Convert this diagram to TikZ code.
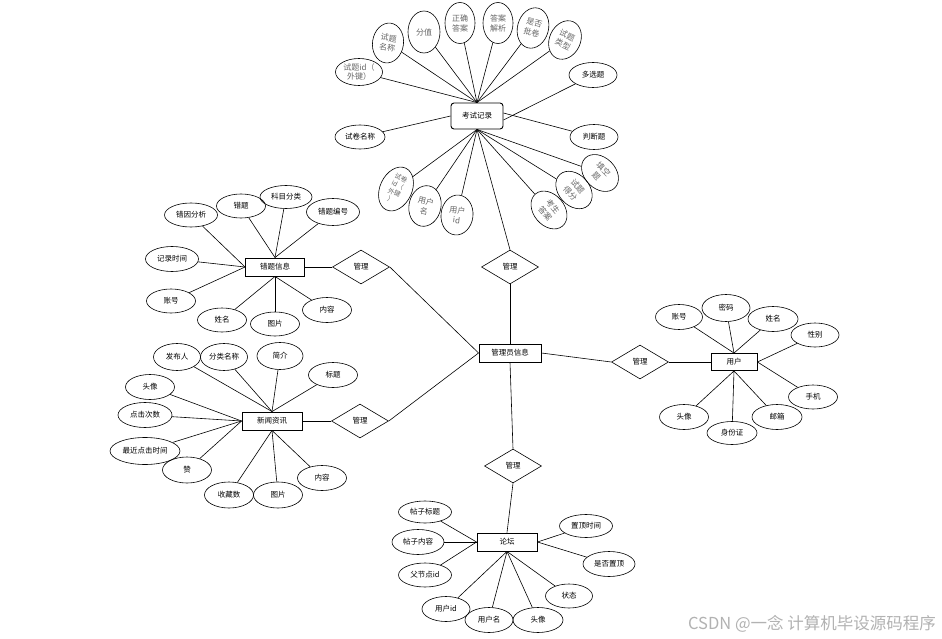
\documentclass[tikz,border=0pt]{standalone}
\usepackage{fontspec}
\setmainfont{Noto Sans CJK SC}
\usetikzlibrary{shapes.geometric}
\begin{document}
\begin{tikzpicture}[x=1pt,y=-1pt,
  every node/.style={font=\fontsize{7.5}{9}\selectfont, inner sep=0pt},
  ent/.style={draw, line width=0.9pt, minimum height=18pt, minimum width=#1pt},
  rel/.style={draw, diamond, minimum width=57pt, minimum height=34pt, line width=0.6pt},
  attr/.style 2 args={draw, ellipse, minimum width=#1pt, minimum height=#2pt, line width=0.6pt},
  gattr/.style 2 args={attr={#1}{#2}, text=black!60, font=\fontsize{8}{10}\selectfont, align=center},
  ln/.style={line width=0.6pt}]
\useasboundingbox (0,0) rectangle (942,639);
\fill[white] (0,0) rectangle (942,639);

% entities
\node[ent=52, rounded corners=3pt, minimum height=26pt] (exam) at (477,116) {考试记录};
\node[ent=62] (admin) at (510,353) {管理员信息};
\node[ent=59] (err) at (275,267) {错题信息};
\node[ent=60] (news) at (272,421) {新闻资讯};
\node[ent=46, minimum height=17pt] (user) at (734,362) {用户};
\node[ent=60] (forum) at (507,542) {论坛};

% relations
\node[rel] (r1) at (510,267) {管理};
\node[rel] (r2) at (361,267) {管理};
\node[rel] (r3) at (360,421) {管理};
\node[rel] (r4) at (640,362) {管理};
\node[rel] (r5) at (513,466) {管理};

\draw[ln] (exam.south) -- (r1.north);
\draw[ln] (r1.south) -- (admin.north);
\draw[ln] (err.east) -- (r2.west);
\draw[ln] (r2.east) -- (admin.west);
\draw[ln] (news.east) -- (r3.west);
\draw[ln] (r3.east) -- (admin.west);
\draw[ln] (admin.east) -- (r4.west);
\draw[ln] (r4.east) -- (user.west);
\draw[ln] (admin.south) -- (r5.north);
\draw[ln] (r5.south) -- (forum.north);

% exam attributes
\node[gattr={47}{27}, font=\fontsize{8}{9.5}\selectfont] (e1) at (359,72) {试题id（\\外键）};
\node[gattr={31}{40}, rotate=-8] (e2) at (388,43) {试题\\名称};
\node[gattr={32}{42}] (e3) at (424,32) {分值};
\node[gattr={30}{41}] (e4) at (460,23) {正确\\答案};
\node[gattr={30}{41}] (e5) at (498,23) {答案\\解析};
\node[gattr={31}{41}, rotate=-15] (e6) at (533,28) {是否\\批卷};
\node[gattr={31}{40}, rotate=-25] (e7) at (565,40) {试题\\类型};
\node[attr={48}{25}] (e8) at (593,75) {多选题};
\node[attr={50}{24}] (e9) at (360,137) {试卷名称};
\node[attr={48}{25}] (e10) at (594,137) {判断题};
\node[gattr={32}{46}, rotate=-25, font=\fontsize{6.5}{8}\selectfont] (e11) at (396,189) {试卷\\id（\\外键\\）};
\node[gattr={32}{41}, rotate=-12] (e12) at (425,206) {用户\\名};
\node[gattr={32}{40}, rotate=-6] (e13) at (457,215) {用户\\id};
\node[gattr={42}{31}, rotate=-50] (e14) at (549,210) {考生\\答案};
\node[gattr={42}{31}, rotate=-48] (e15) at (574,190) {试题\\得分};
\node[gattr={42}{31}, rotate=-45] (e16) at (600,173) {填空\\题};

\foreach \n in {e1,e2,e3,e4,e5,e6,e7} \draw[ln] (\n) -- (exam.north);
\draw[ln] (e8) -- ([yshift=-4pt]exam.east);
\draw[ln] (e10) -- ([yshift=3pt]exam.east);
\draw[ln] (e9) -- (exam.west);
\foreach \n in {e11,e12,e13,e14,e15,e16} \draw[ln] (\n) -- (exam.south);

% error info attributes
\node[attr={53}{24}] (a1) at (191,215) {错因分析};
\node[attr={49}{24}] (a2) at (241,206) {错题};
\node[attr={52}{23}] (a3) at (286,197) {科目分类};
\node[attr={53}{27}] (a4) at (333,212) {错题编号};
\node[attr={53}{25}] (a5) at (172,259) {记录时间};
\node[attr={49}{24}] (a6) at (171,301) {账号};
\node[attr={49}{24}] (a7) at (222,320) {姓名};
\node[attr={49}{24}] (a8) at (275,324) {图片};
\node[attr={49}{25}] (a9) at (327,310) {内容};
\foreach \n in {a1,a5,a6} \draw[ln] (\n) -- (err.west);
\foreach \n in {a2,a3,a4} \draw[ln] (\n) -- (err.north);
\foreach \n in {a7,a8,a9} \draw[ln] (\n) -- (err.south);

% news attributes
\node[attr={47}{27}] (n1) at (177,357) {发布人};
\node[attr={47}{27}] (n2) at (224,357) {分类名称};
\node[attr={46}{27}] (n3) at (280,356) {简介};
\node[attr={49}{25}] (n4) at (333,375) {标题};
\node[attr={49}{25}] (n5) at (150,387) {头像};
\node[attr={54}{25}] (n6) at (145,415) {点击次数};
\node[attr={70}{27}] (n7) at (145,451) {最近点击时间};
\node[attr={49}{26}] (n8) at (187,470) {赞};
\node[attr={49}{26}] (n9) at (229,495) {收藏数};
\node[attr={49}{26}] (n10) at (278,495) {图片};
\node[attr={49}{25}] (n11) at (322,478) {内容};
\foreach \n in {n1,n2,n3,n4} \draw[ln] (\n) -- (news.north);
\foreach \n in {n5,n6,n7,n8} \draw[ln] (\n) -- (news.west);
\foreach \n in {n9,n10,n11} \draw[ln] (\n) -- (news.south);

% user attributes
\node[attr={47}{25}] (u1) at (679,317) {账号};
\node[attr={48}{27}] (u2) at (726,308) {密码};
\node[attr={50}{25}] (u3) at (773,319) {姓名};
\node[attr={48}{24}] (u4) at (815,335) {性别};
\node[attr={49}{24}] (u5) at (813,397) {手机};
\node[attr={50}{25}] (u6) at (777,417) {邮箱};
\node[attr={50}{23}] (u7) at (732,433) {身份证};
\node[attr={49}{25}] (u8) at (684,417) {头像};
\foreach \n in {u1,u2,u3} \draw[ln] (\n) -- (user.north);
\foreach \n in {u4,u5} \draw[ln] (\n) -- (user.east);
\foreach \n in {u6,u7,u8} \draw[ln] (\n) -- (user.south);

% forum attributes
\node[attr={53}{22}] (f1) at (425,512) {帖子标题};
\node[attr={52}{25}] (f2) at (418,542) {帖子内容};
\node[attr={53}{24}] (f3) at (425,575) {父节点id};
\node[attr={48}{25}] (f4) at (446,609) {用户id};
\node[attr={48}{25}] (f5) at (489,620) {用户名};
\node[attr={50}{25}] (f6) at (538,620) {头像};
\node[attr={47}{24}] (f7) at (569,596) {状态};
\node[attr={52}{25}] (f8) at (609,564) {是否置顶};
\node[attr={53}{23}] (f9) at (586,526) {置顶时间};
\foreach \n in {f1,f2,f3} \draw[ln] (\n) -- (forum.west);
\foreach \n in {f4,f5,f6,f7} \draw[ln] (\n) -- (forum.south);
\foreach \n in {f8,f9} \draw[ln] (\n) -- (forum.east);

% watermark
\node[anchor=east, text=black!30, font=\fontsize{16.5}{18}\selectfont] (wm) at (936,624) {CSDN @一念 计算机毕设源码程序};
\end{tikzpicture}
\end{document}
